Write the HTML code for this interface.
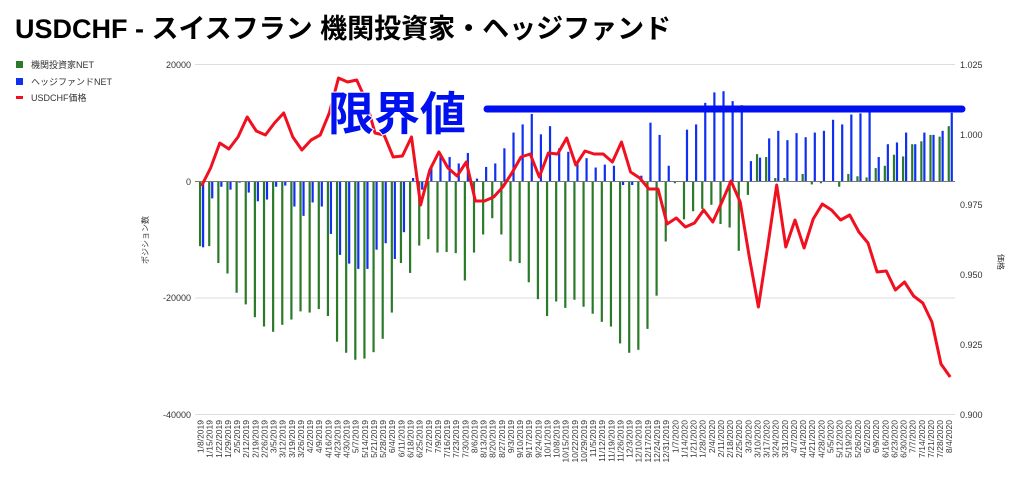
<!DOCTYPE html>
<html><head><meta charset="utf-8"><style>
html,body{margin:0;padding:0;background:#fff;width:1024px;height:484px;overflow:hidden}
svg{display:block;font-family:"Liberation Sans","Noto Sans CJK JP",sans-serif}
</style></head><body>
<svg id="s" width="1024" height="484" viewBox="0 0 1024 484" xmlns="http://www.w3.org/2000/svg">
<text x="15" y="38" font-size="27" font-weight="bold" fill="#000">USDCHF - スイスフラン 機関投資家・ヘッジファンド</text>
<rect x="16" y="61" width="7" height="7" fill="#2a7a2a"/><text x="31" y="68" font-size="9" fill="#333">機関投資家NET</text>
<rect x="16" y="78" width="7" height="7" fill="#1030f0"/><text x="31" y="85" font-size="9" fill="#333">ヘッジファンドNET</text>
<rect x="16" y="96" width="7" height="3" fill="#f01020"/><text x="31" y="101" font-size="9" fill="#333">USDCHF価格</text>
<line x1="195" y1="64.5" x2="955" y2="64.5" stroke="#ddd"/>
<line x1="195" y1="298" x2="955" y2="298" stroke="#ddd"/>
<line x1="195" y1="414.5" x2="955" y2="414.5" stroke="#ddd"/>
<g font-size="9" fill="#333" text-anchor="end">
<text x="191" y="68">20000</text><text x="191" y="185">0</text><text x="191" y="301">-20000</text><text x="191" y="418">-40000</text></g>
<g font-size="9" fill="#333">
<text x="960" y="68">1.025</text><text x="960" y="138">1.000</text><text x="960" y="208">0.975</text><text x="960" y="278">0.950</text><text x="960" y="348">0.925</text><text x="960" y="418">0.900</text></g>
<text transform="translate(148,240) rotate(-90)" font-size="8" text-anchor="middle" fill="#333">ポジション数</text>
<text transform="translate(998,262) rotate(90)" font-size="8" text-anchor="middle" fill="#333">価格</text>
<g id="bars"></g>
<line x1="195" y1="181.5" x2="955" y2="181.5" stroke="#777" stroke-width="1"/>
<polyline id="pl" fill="none" stroke="#f01020" stroke-width="3" stroke-linejoin="round" points=""/>
<text x="328" y="130" font-size="46" font-weight="bold" fill="#0010ee" stroke="#fff" stroke-width="2" paint-order="stroke">限界値</text>
<line x1="487" y1="109" x2="962" y2="109" stroke="#0010ee" stroke-width="7" stroke-linecap="round"/>
<g font-size="8.5" fill="#333" text-anchor="end">
<text transform="translate(203.5,420) rotate(-90)">1/8/2019</text>
<text transform="translate(212.6,420) rotate(-90)">1/15/2019</text>
<text transform="translate(221.8,420) rotate(-90)">1/22/2019</text>
<text transform="translate(230.9,420) rotate(-90)">1/29/2019</text>
<text transform="translate(240,420) rotate(-90)">2/5/2019</text>
<text transform="translate(249.2,420) rotate(-90)">2/12/2019</text>
<text transform="translate(258.3,420) rotate(-90)">2/19/2019</text>
<text transform="translate(267.4,420) rotate(-90)">2/26/2019</text>
<text transform="translate(276.5,420) rotate(-90)">3/5/2019</text>
<text transform="translate(285.7,420) rotate(-90)">3/12/2019</text>
<text transform="translate(294.8,420) rotate(-90)">3/19/2019</text>
<text transform="translate(303.9,420) rotate(-90)">3/26/2019</text>
<text transform="translate(313.1,420) rotate(-90)">4/2/2019</text>
<text transform="translate(322.2,420) rotate(-90)">4/9/2019</text>
<text transform="translate(331.3,420) rotate(-90)">4/16/2019</text>
<text transform="translate(340.5,420) rotate(-90)">4/23/2019</text>
<text transform="translate(349.6,420) rotate(-90)">4/30/2019</text>
<text transform="translate(358.7,420) rotate(-90)">5/7/2019</text>
<text transform="translate(367.8,420) rotate(-90)">5/14/2019</text>
<text transform="translate(377,420) rotate(-90)">5/21/2019</text>
<text transform="translate(386.1,420) rotate(-90)">5/28/2019</text>
<text transform="translate(395.2,420) rotate(-90)">6/4/2019</text>
<text transform="translate(404.4,420) rotate(-90)">6/11/2019</text>
<text transform="translate(413.5,420) rotate(-90)">6/18/2019</text>
<text transform="translate(422.6,420) rotate(-90)">6/25/2019</text>
<text transform="translate(431.8,420) rotate(-90)">7/2/2019</text>
<text transform="translate(440.9,420) rotate(-90)">7/9/2019</text>
<text transform="translate(450,420) rotate(-90)">7/16/2019</text>
<text transform="translate(459.1,420) rotate(-90)">7/23/2019</text>
<text transform="translate(468.3,420) rotate(-90)">7/30/2019</text>
<text transform="translate(477.4,420) rotate(-90)">8/6/2019</text>
<text transform="translate(486.5,420) rotate(-90)">8/13/2019</text>
<text transform="translate(495.7,420) rotate(-90)">8/20/2019</text>
<text transform="translate(504.8,420) rotate(-90)">8/27/2019</text>
<text transform="translate(513.9,420) rotate(-90)">9/3/2019</text>
<text transform="translate(523.1,420) rotate(-90)">9/10/2019</text>
<text transform="translate(532.2,420) rotate(-90)">9/17/2019</text>
<text transform="translate(541.3,420) rotate(-90)">9/24/2019</text>
<text transform="translate(550.4,420) rotate(-90)">10/1/2019</text>
<text transform="translate(559.6,420) rotate(-90)">10/8/2019</text>
<text transform="translate(568.7,420) rotate(-90)">10/15/2019</text>
<text transform="translate(577.8,420) rotate(-90)">10/22/2019</text>
<text transform="translate(587,420) rotate(-90)">10/29/2019</text>
<text transform="translate(596.1,420) rotate(-90)">11/5/2019</text>
<text transform="translate(605.2,420) rotate(-90)">11/12/2019</text>
<text transform="translate(614.4,420) rotate(-90)">11/19/2019</text>
<text transform="translate(623.5,420) rotate(-90)">11/26/2019</text>
<text transform="translate(632.6,420) rotate(-90)">12/3/2019</text>
<text transform="translate(641.7,420) rotate(-90)">12/10/2019</text>
<text transform="translate(650.9,420) rotate(-90)">12/17/2019</text>
<text transform="translate(660,420) rotate(-90)">12/24/2019</text>
<text transform="translate(669.1,420) rotate(-90)">12/31/2019</text>
<text transform="translate(678.3,420) rotate(-90)">1/7/2020</text>
<text transform="translate(687.4,420) rotate(-90)">1/14/2020</text>
<text transform="translate(696.5,420) rotate(-90)">1/21/2020</text>
<text transform="translate(705.7,420) rotate(-90)">1/28/2020</text>
<text transform="translate(714.8,420) rotate(-90)">2/4/2020</text>
<text transform="translate(723.9,420) rotate(-90)">2/11/2020</text>
<text transform="translate(733,420) rotate(-90)">2/18/2020</text>
<text transform="translate(742.2,420) rotate(-90)">2/25/2020</text>
<text transform="translate(751.3,420) rotate(-90)">3/3/2020</text>
<text transform="translate(760.4,420) rotate(-90)">3/10/2020</text>
<text transform="translate(769.6,420) rotate(-90)">3/17/2020</text>
<text transform="translate(778.7,420) rotate(-90)">3/24/2020</text>
<text transform="translate(787.8,420) rotate(-90)">3/31/2020</text>
<text transform="translate(797,420) rotate(-90)">4/7/2020</text>
<text transform="translate(806.1,420) rotate(-90)">4/14/2020</text>
<text transform="translate(815.2,420) rotate(-90)">4/21/2020</text>
<text transform="translate(824.3,420) rotate(-90)">4/28/2020</text>
<text transform="translate(833.5,420) rotate(-90)">5/5/2020</text>
<text transform="translate(842.6,420) rotate(-90)">5/12/2020</text>
<text transform="translate(851.7,420) rotate(-90)">5/19/2020</text>
<text transform="translate(860.9,420) rotate(-90)">5/26/2020</text>
<text transform="translate(870,420) rotate(-90)">6/2/2020</text>
<text transform="translate(879.1,420) rotate(-90)">6/9/2020</text>
<text transform="translate(888.3,420) rotate(-90)">6/16/2020</text>
<text transform="translate(897.4,420) rotate(-90)">6/23/2020</text>
<text transform="translate(906.5,420) rotate(-90)">6/30/2020</text>
<text transform="translate(915.6,420) rotate(-90)">7/7/2020</text>
<text transform="translate(924.8,420) rotate(-90)">7/14/2020</text>
<text transform="translate(933.9,420) rotate(-90)">7/21/2020</text>
<text transform="translate(943,420) rotate(-90)">7/28/2020</text>
<text transform="translate(952.2,420) rotate(-90)">8/4/2020</text>
</g>
</svg>
<script>
var G=[-11.1,-11.1,-14,-15.8,-19.1,-21.1,-23.3,-24.9,-25.8,-24.6,-23.7,-22.3,-22.5,-21.9,-23.1,-27.5,-29.4,-30.6,-30.4,-29.3,-27,-22.5,-14,-15.7,-11,-9.9,-12.2,-12.1,-12.3,-17,-12.2,-9.1,-6.3,-9.1,-13.7,-14,-17.3,-20.2,-23.1,-20.6,-21.7,-20.3,-21.5,-22.7,-24.1,-24.9,-27.8,-29.4,-28.9,-25.3,-19.6,-10.3,-0.3,-6.5,-5.1,-4.7,-4,-7.3,-7.9,-11.9,-2.3,4.7,4.2,0.6,0.6,0,1.3,-0.5,-0.3,0,-0.9,1.3,0.9,0.7,2.3,2.7,4.6,4.3,6.4,6.9,8,7.7,9.5];
var B=[-11.3,-2.9,-0.9,-1.4,-0.2,-1.9,-3.4,-3.1,-0.9,-0.7,-4.3,-5.9,-3.6,-4.3,-9,-12.6,-14.1,-15,-15,-11.7,-10.6,-13.3,-8.7,0.6,-1.4,2.6,4.3,4.2,3.1,4.9,0.5,2.5,3.1,5.7,8.4,9.8,11.6,8.1,9.5,5.7,5.1,3.1,4,2.4,2.9,2.7,-0.6,-0.6,1,10.1,8,2.7,0,8.9,9.8,13.5,15.3,15.5,13.8,13.1,3.5,4.1,7.4,8.7,7.1,8.3,7.6,8.4,8.7,10.6,9.8,11.5,11.7,12.3,4.2,6.4,6.7,8.4,6.4,8.4,8,8.7,11.8];
var L=[186,168,143,149,137,117,131,135,123,113,137,150,140,135,113,78,82,80,100,133,135,157,156,137,205,170,152,168,176,162,201,201,197,187,173,157,154,177,153,154,138,165,151,154,154,162,142,172,178,189,189,224,218,227,223,210,222,202,181,202,257,307,247,185,247,220,248,219,204,210,220,215,232,243,272,271,290,282,296,303,322,364,377];
var ns="http://www.w3.org/2000/svg",g=document.getElementById("bars"),k=5.825,pts=[];
function r(x,v,c){var e=document.createElementNS(ns,"rect");var y0=181.5,h=Math.abs(v)*k;e.setAttribute("x",x);e.setAttribute("width",2.2);e.setAttribute("y",v>=0?y0-h:y0);e.setAttribute("height",h);e.setAttribute("fill",c);g.appendChild(e);}
for(var i=0;i<83;i++){var x=199+9.13*i;r(x,G[i],"#2a7a2a");r(x+3,B[i],"#1030f0");pts.push((x+2.5).toFixed(1)+","+L[i]);}
document.getElementById("pl").setAttribute("points",pts.join(" "));
</script>
</body></html>
